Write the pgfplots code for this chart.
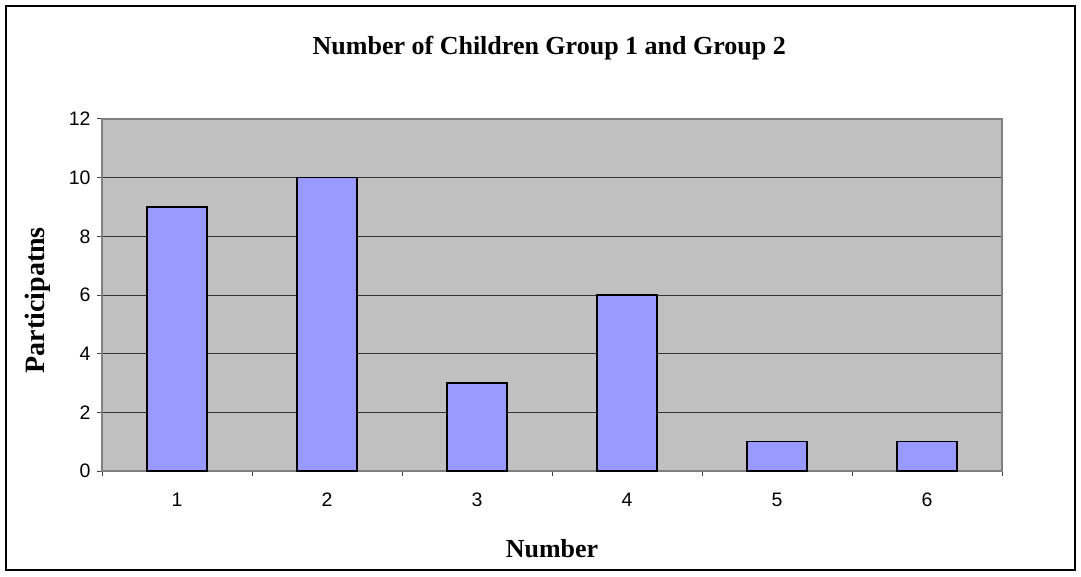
\documentclass[border=0pt]{standalone}
\usepackage{pgfplots}
\pgfplotsset{compat=1.18}
\usepackage{fontspec}
\setmainfont{Liberation Serif}
\newfontfamily\arial{Liberation Sans}

\definecolor{plotgray}{HTML}{C0C0C0}
\definecolor{barblue}{HTML}{9999FF}
\definecolor{bordergray}{HTML}{808080}

\begin{document}
\begin{tikzpicture}
\useasboundingbox (0pt,0pt) rectangle (1081pt,576pt);
\draw[line width=1.6pt] (6pt,6pt) rectangle (1075pt,570pt);
\begin{axis}[
    at={(102pt,105pt)}, anchor=south west,
    width=900pt, height=352pt, scale only axis,
    xmin=0.5, xmax=6.5, ymin=0, ymax=12,
    xtick={1,...,6},
    minor xtick={0.5,1.5,...,6.5},
    ytick={0,2,...,12},
    xtick pos=bottom, ytick pos=left,
    tick align=outside,
    major tick length=5pt, minor tick length=5pt,
    xtick style={draw=none},
    minor x tick style={draw=bordergray!50!black, line width=1pt},
    ytick style={draw=bordergray!50!black, line width=1pt},
    ymajorgrids,
    major grid style={draw=black!80, line width=0.9pt},
    axis line style={draw=bordergray, line width=1.2pt},
    axis background/.style={fill=plotgray},
    tick label style={font=\arial\fontsize{19.5}{21}\selectfont},
    /pgf/number format/assume math mode=true,
    xticklabel style={yshift=-13pt, text height=14pt, text depth=0pt},
    yticklabel style={xshift=-3pt},
    title={\bfseries Number of Children Group 1 and Group 2},
    title style={font=\fontsize{26}{29}\selectfont, at={(axis description cs:0.497,1.184)}, anchor=center},
    xlabel={\bfseries Number},
    xlabel style={font=\fontsize{26}{29}\selectfont, at={(axis description cs:0.5,-0.22)}, anchor=center},
    ylabel={\bfseries Participatns},
    ylabel style={font=\fontsize{28}{31}\selectfont, at={(axis description cs:-0.071,0.485)}, anchor=center},
]
\addplot[ybar, bar width=60pt, fill=barblue, draw=black, line width=1.5pt]
    coordinates {(1,9) (2,10) (3,3) (4,6) (5,1) (6,1)};
\end{axis}
\end{tikzpicture}
\end{document}
